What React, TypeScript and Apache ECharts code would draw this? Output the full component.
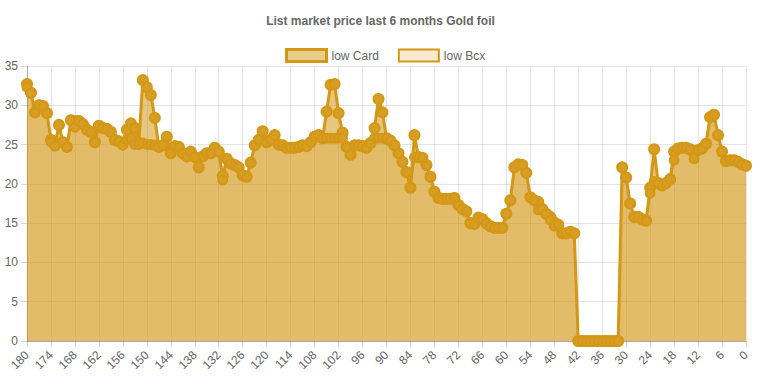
import React, { useEffect, useRef } from "react";
import * as echarts from "echarts";

const TITLE = "List market price last 6 months Gold foil";
const SERIES_NAMES = ["low Card", "low Bcx"];

const days = [
  "180","179","178","177","176","175","174","173","172","171",
  "170","169","168","167","166","165","164","163","162","161",
  "160","159","158","157","156","155","154","153","152","151",
  "150","149","148","147","146","145","144","143","142","141",
  "140","139","138","137","136","135","134","133","132","131",
  "130","129","128","127","126","125","124","123","122","121",
  "120","119","118","117","116","115","114","113","112","111",
  "110","109","108","107","106","105","104","103","102","101",
  "100","99","98","97","96","95","94","93","92","91",
  "90","89","88","87","86","85","84","83","82","81",
  "80","79","78","77","76","75","74","73","72","71",
  "70","69","68","67","66","65","64","63","62","61",
  "60","59","58","57","56","55","54","53","52","51",
  "50","49","48","47","46","45","44","43","42","41",
  "40","39","38","37","36","35","34","33","32","31",
  "30","29","28","27","26","25","24","23","22","21",
  "20","19","18","17","16","15","14","13","12","11",
  "10","9","8","7","6","5","4","3","2","1",
  "0",
];

const lowCard = [
  32.7, 31.6, 29.1, 30.0, 29.9, 29.0, 25.6, 25.0, 27.5, 25.3,
  24.7, 28.1, 28.0, 28.0, 27.6, 26.9, 26.6, 25.3, 27.4, 27.1,
  27.0, 26.6, 25.6, 25.4, 25.2, 26.9, 27.7, 27.1, 25.2, 33.2,
  32.3, 31.3, 28.4, 24.7, 24.9, 26.0, 23.9, 24.8, 24.7, 23.9,
  23.5, 24.1, 23.4, 22.1, 23.5, 23.9, 23.9, 24.6, 24.1, 21.0,
  23.2, 22.6, 22.4, 22.1, 21.1, 20.9, 22.7, 24.9, 25.6, 26.7,
  25.3, 25.6, 26.2, 25.0, 24.9, 24.6, 24.6, 24.6, 24.7, 24.9,
  24.8, 25.3, 26.0, 26.2, 25.8, 29.2, 32.6, 32.7, 29.0, 26.5,
  24.7, 23.7, 24.9, 24.9, 24.8, 24.6, 25.2, 27.1, 30.8, 29.1,
  25.8, 25.5, 24.9, 23.9, 22.8, 21.5, 19.5, 26.2, 23.4, 23.3,
  22.4, 20.9, 19.0, 18.2, 18.1, 18.1, 18.1, 18.2, 17.3, 16.8,
  16.5, 15.0, 14.9, 15.7, 15.5, 15.0, 14.6, 14.4, 14.4, 14.4,
  16.2, 17.9, 22.1, 22.5, 22.4, 21.4, 18.3, 17.9, 17.7, 16.8,
  16.2, 15.8, 15.1, 14.8, 13.7, 13.7, 13.9, 13.7, 0, 0,
  0, 0, 0, 0, 0, 0, 0, 0, 0, 22.1,
  20.8, 17.5, 15.8, 15.8, 15.5, 15.3, 19.5, 24.4, 20.1, 19.8,
  20.1, 20.6, 24.1, 24.5, 24.6, 24.6, 24.4, 23.9, 24.3, 24.5,
  25.1, 28.5, 28.8, 26.2, 24.1, 22.9, 23.0, 23.0, 22.8, 22.5,
  22.3,
];

const lowBcx = [
  32.3, 31.6, 29.1, 30.0, 29.9, 29.0, 25.3, 24.8, 27.5, 25.3,
  24.7, 28.1, 27.2, 28.0, 27.6, 26.9, 26.6, 25.3, 27.4, 27.1,
  27.0, 26.6, 25.6, 25.4, 24.9, 25.6, 25.8, 25.0, 25.0, 25.2,
  25.0, 25.0, 24.9, 24.7, 24.9, 26.0, 23.9, 24.8, 24.7, 23.9,
  23.5, 24.1, 23.4, 22.1, 23.5, 23.9, 23.9, 24.6, 24.1, 20.5,
  23.2, 22.6, 22.4, 22.1, 21.1, 20.9, 22.7, 24.9, 25.6, 26.7,
  25.3, 25.6, 26.2, 25.0, 24.9, 24.6, 24.6, 24.6, 24.7, 24.9,
  24.8, 25.3, 26.0, 26.2, 25.8, 25.8, 25.8, 25.8, 25.8, 25.8,
  24.7, 23.7, 24.9, 24.9, 24.8, 24.6, 25.2, 25.8, 25.8, 25.8,
  25.8, 25.5, 24.9, 23.9, 22.8, 21.5, 19.5, 23.4, 23.4, 23.3,
  22.4, 20.9, 19.0, 18.2, 18.1, 18.1, 18.1, 18.2, 17.3, 16.8,
  16.5, 15.0, 14.9, 15.7, 15.5, 15.0, 14.6, 14.4, 14.4, 14.4,
  16.2, 17.9, 22.1, 22.5, 22.4, 21.4, 18.3, 17.9, 16.7, 16.8,
  16.2, 15.4, 14.6, 14.8, 13.7, 13.7, 13.9, 13.7, 0, 0,
  0, 0, 0, 0, 0, 0, 0, 0, 0, 22.1,
  20.8, 17.5, 15.8, 15.8, 15.5, 15.3, 18.8, 20.3, 20.1, 19.8,
  20.1, 20.6, 23.0, 24.5, 24.6, 24.6, 24.4, 23.2, 24.3, 24.5,
  25.1, 28.5, 28.8, 26.2, 24.1, 22.9, 23.0, 23.0, 22.8, 22.5,
  22.3,
];

const GOLD = "rgb(212,152,22)";
const FONT = "Arial, 'Liberation Sans', Helvetica, sans-serif";

export default function App() {
  const ref = useRef<HTMLDivElement>(null);

  useEffect(() => {
    if (!ref.current) return;
    const chart = echarts.init(ref.current, undefined, { renderer: "svg" });
    chart.setOption({
      animation: false,
      title: {
        text: TITLE,
        left: "center",
        top: 10,
        textStyle: { fontSize: 12, fontWeight: "bold", color: "#666", fontFamily: FONT },
      },
      legend: {
        top: 43,
        left: 280,
        itemWidth: 40,
        itemHeight: 12,
        itemGap: 19,
        icon: "rect",
        textStyle: { fontSize: 12, color: "#666", fontFamily: FONT },
        data: [
          {
            name: SERIES_NAMES[0],
            icon: "rect",
            itemStyle: { color: "rgba(212,152,22,0.5)", borderColor: GOLD, borderWidth: 3 },
          },
          {
            name: SERIES_NAMES[1],
            icon: "rect",
            itemStyle: { color: "rgba(212,152,22,0.2)", borderColor: GOLD, borderWidth: 2 },
          },
        ],
      },
      grid: { left: 27, right: 15, top: 66, bottom: 39, containLabel: false },
      xAxis: {
        type: "category",
        data: days,
        boundaryGap: false,
        axisLine: { show: true, lineStyle: { color: "rgba(0,0,0,0.25)" } },
        axisTick: { show: true, interval: 5, length: 6, lineStyle: { color: "rgba(0,0,0,0.15)" } },
        axisLabel: {
          interval: 5,
          rotate: 45,
          fontSize: 12,
          color: "#666",
          fontFamily: FONT,
          margin: 12,
        },
        splitLine: { show: true, interval: 5, lineStyle: { color: "rgba(0,0,0,0.1)" } },
      },
      yAxis: {
        type: "value",
        min: 0,
        max: 35,
        interval: 5,
        axisLine: { show: true, lineStyle: { color: "rgba(0,0,0,0.25)" } },
        axisTick: { show: true, length: 6, lineStyle: { color: "rgba(0,0,0,0.15)" } },
        axisLabel: { fontSize: 12, color: "#666", fontFamily: FONT, margin: 9 },
        splitLine: { show: true, lineStyle: { color: "rgba(0,0,0,0.1)" } },
      },
      series: [
        {
          name: SERIES_NAMES[0],
          type: "line",
          data: lowCard,
          symbol: "circle",
          symbolSize: 10,
          showAllSymbol: true,
          lineStyle: { color: GOLD, width: 3 },
          itemStyle: { color: "rgb(214,158,36)", borderColor: GOLD, borderWidth: 2 },
          areaStyle: { color: "rgba(212,152,22,0.55)", opacity: 1, origin: "start" },
        },
        {
          name: SERIES_NAMES[1],
          type: "line",
          data: lowBcx,
          symbol: "circle",
          symbolSize: 9,
          showAllSymbol: true,
          lineStyle: { color: GOLD, width: 2 },
          itemStyle: { color: "rgb(214,158,36)", borderColor: GOLD, borderWidth: 2 },
          areaStyle: { color: "rgba(212,152,22,0.2)", opacity: 1, origin: "start" },
        },
      ],
    });
    return () => chart.dispose();
  }, []);

  return (
    <div
      ref={ref}
      style={{ position: "fixed", left: 0, top: 0, width: 761, height: 380, background: "#fff" }}
    />
  );
}
